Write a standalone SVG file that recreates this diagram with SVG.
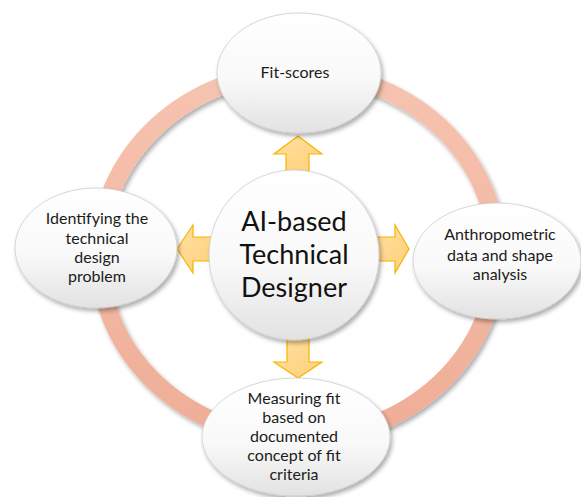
<svg xmlns="http://www.w3.org/2000/svg" width="581" height="497" viewBox="0 0 581 497">
  <defs>
    <linearGradient id="nodeFill" x1="0" y1="0" x2="0" y2="1">
      <stop offset="0" stop-color="#ffffff"/>
      <stop offset="0.55" stop-color="#f9f9f9"/>
      <stop offset="1" stop-color="#e2e2e2"/>
    </linearGradient>
    <linearGradient id="ringFill" gradientUnits="userSpaceOnUse" x1="0" y1="70" x2="0" y2="440">
      <stop offset="0" stop-color="#f6c4b1"/>
      <stop offset="1" stop-color="#efad96"/>
    </linearGradient>
    <linearGradient id="arrowFill" x1="0" y1="0" x2="1" y2="1">
      <stop offset="0" stop-color="#ffe1a4"/>
      <stop offset="1" stop-color="#ffcf78"/>
    </linearGradient>
    <filter id="shadow" x="-20%" y="-20%" width="140%" height="140%">
      <feDropShadow dx="2" dy="3" stdDeviation="2.2" flood-color="#000" flood-opacity="0.32"/>
    </filter>
  </defs>
  <style>
    .node { fill: url(#nodeFill); stroke: #cdcdcd; stroke-width: 0.8; filter: url(#shadow); }
    .label { font-family: Lato, "Open Sans", sans-serif; font-size: 16px; fill: #1b1b1b; text-anchor: middle; }
    .hub { font-family: Lato, "Open Sans", sans-serif; font-size: 27px; fill: #111; text-anchor: middle; }
    .arrow { fill: url(#arrowFill); stroke: #f6b400; stroke-width: 1.2; stroke-linejoin: miter; }
  </style>

  <rect width="581" height="497" fill="#ffffff"/>

  <!-- cycle ring and the hub arrows -->
  <g id="connectors">
    <ellipse cx="298" cy="255" rx="199" ry="183" fill="none" stroke="url(#ringFill)" stroke-width="18" filter="url(#shadow)"/>
    <path class="arrow" d="M286,172 L286,154 L274,154 L298,136 L322,154 L309,154 L309,172 Z"/>
    <path class="arrow" d="M372,237 L395,237 L395,225 L409,249 L395,273 L395,261 L372,261 Z"/>
    <path class="arrow" d="M216,237 L193,237 L193,225 L177,249 L193,273 L193,261 L216,261 Z"/>
    <path class="arrow" d="M287,335 L287,362 L274,362 L298,378 L322,362 L309,362 L309,335 Z"/>
  </g>

  <g id="fit-scores">
    <ellipse class="node" cx="299" cy="73" rx="82" ry="60"/>
    <text class="label" x="295" y="78">Fit-scores</text>
  </g>

  <g id="identifying-problem">
    <ellipse class="node" cx="96" cy="248" rx="81" ry="60"/>
    <text class="label" x="97" y="224">Identifying the</text>
    <text class="label" x="97" y="244">technical</text>
    <text class="label" x="97" y="263">design</text>
    <text class="label" x="97" y="282">problem</text>
  </g>

  <g id="anthropometric">
    <ellipse class="node" cx="497" cy="261" rx="84" ry="58"/>
    <text class="label" x="500" y="240">Anthropometric</text>
    <text class="label" x="500" y="261">data and shape</text>
    <text class="label" x="500" y="280">analysis</text>
  </g>

  <g id="measuring-fit">
    <ellipse class="node" cx="296" cy="437" rx="94" ry="59"/>
    <text class="label" x="294" y="404">Measuring fit</text>
    <text class="label" x="294" y="423">based on</text>
    <text class="label" x="294" y="442">documented</text>
    <text class="label" x="294" y="461">concept of fit</text>
    <text class="label" x="294" y="480">criteria</text>
  </g>

  <g id="ai-designer">
    <circle class="node" cx="294" cy="255" r="85"/>
    <text class="hub" x="294" y="231">AI-based</text>
    <text class="hub" x="294" y="264">Technical</text>
    <text class="hub" x="294" y="297">Designer</text>
  </g>
</svg>
